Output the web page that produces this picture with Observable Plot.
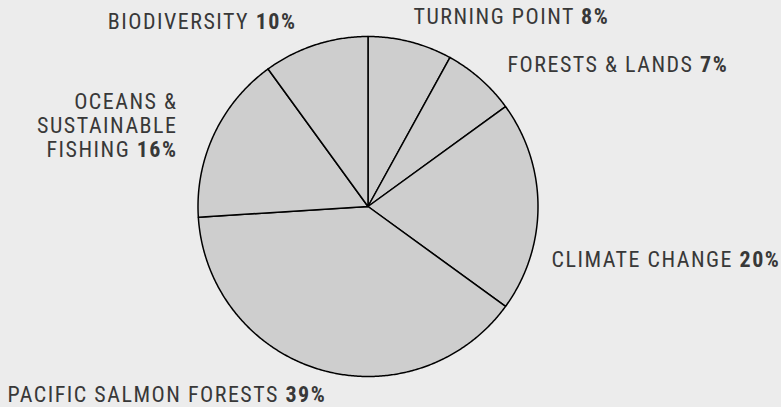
<!DOCTYPE html>
<html>
<head>
<meta charset="utf-8">
<script src="https://cdn.jsdelivr.net/npm/d3@7"></script>
<script src="https://cdn.jsdelivr.net/npm/@observablehq/plot@0.6"></script>
<style>
  html, body { margin: 0; padding: 0; background: #ececec; }
  #chart svg { display: block; }
</style>
</head>
<body>
<div id="chart"></div>
<script>
// ---- data ----
const categories = ["TURNING POINT", "FORESTS & LANDS", "CLIMATE CHANGE", "PACIFIC SALMON FORESTS", "OCEANS &\nSUSTAINABLE\nFISHING", "BIODIVERSITY"];
const shares = [8, 7, 20, 39, 16, 10];

// ---- layout (pixels) ----
const W = 781, H = 407;
const CX = 367.5, CY = 206, R = 170;
const labelLayout = [
  {anchor: "start", px: 413, py: 16},
  {anchor: "start", px: 507, py: 64},
  {anchor: "start", px: 551, py: 259},
  {anchor: "start", px: 7, py: 394},
  {anchor: "end", px: 177, py: 124.7},
  {anchor: "end", px: 296, py: 21}
];
const toX = px => (px - CX) / R;
const toY = py => (CY - py) / R;

// slices: polygon points in radius units (angle clockwise from 12 o'clock)
const total = d3.sum(shares);
const slicePts = [];
let cum = 0;
categories.forEach((name, i) => {
  const a0 = cum / total * 2 * Math.PI;
  cum += shares[i];
  const a1 = cum / total * 2 * Math.PI;
  const n = Math.max(2, Math.ceil((a1 - a0) / (Math.PI / 360)));
  slicePts.push({name, x: 0, y: 0});
  for (let k = 0; k <= n; k++) {
    const a = a0 + (a1 - a0) * k / n;
    slicePts.push({name, x: Math.sin(a), y: Math.cos(a)});
  }
});

const labels = categories.map((name, i) => ({
  text: name + " " + shares[i] + "%",
  anchor: labelLayout[i].anchor,
  x: toX(labelLayout[i].px),
  y: toY(labelLayout[i].py)
}));

const font = "'Liberation Sans Narrow', 'Roboto Condensed', 'DejaVu Sans Condensed', Roboto, sans-serif";

const textOpts = {
  x: "x", y: "y", text: "text",
  fontSize: 22, fill: "#383838",
  lineHeight: 24 / 22
};

const chart = Plot.plot({
  width: W, height: H,
  margin: 0,
  style: {background: "#ececec", fontFamily: font},
  x: {domain: [toX(0), toX(W)], axis: null},
  y: {domain: [toY(H), toY(0)], axis: null},
  marks: [
    Plot.line(slicePts, {x: "x", y: "y", z: "name", curve: "linear-closed",
      fill: "#cecece", stroke: "#000", strokeWidth: 1.5, strokeLinejoin: "round"}),
    Plot.text(labels.filter(d => d.anchor === "start"), {...textOpts, textAnchor: "start"}),
    Plot.text(labels.filter(d => d.anchor === "end"), {...textOpts, textAnchor: "end"})
  ]
});

// make percentages bold, letter-spacing
d3.select(chart).selectAll("g[aria-label='text'] text").each(function() {
  const t = d3.select(this);
  t.style("letter-spacing", "1.5px");
  const spans = this.querySelectorAll("tspan");
  const target = spans.length ? spans[spans.length - 1] : this;
  const s = target.textContent;
  const idx = s.lastIndexOf(" ");
  target.textContent = s.slice(0, idx + 1);
  const b = document.createElementNS("http://www.w3.org/2000/svg", "tspan");
  b.setAttribute("font-weight", "bold");
  b.textContent = s.slice(idx + 1);
  target.appendChild(b);
});

document.getElementById("chart").appendChild(chart);
</script>
</body>
</html>
